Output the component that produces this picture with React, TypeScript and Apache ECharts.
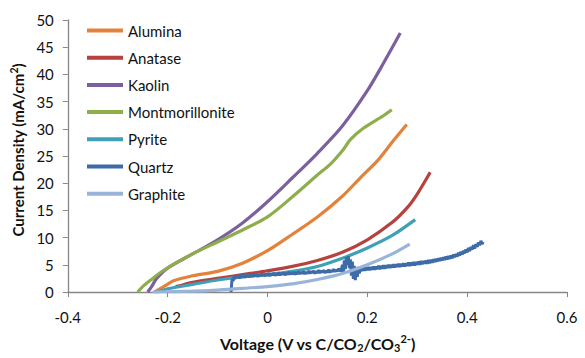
import React, { useEffect, useRef } from "react";
import * as echarts from "echarts";

// ---- Data (Voltage V vs C/CO2/CO3^2-, Current Density mA/cm2) ----
const aluminaV = [-0.226, -0.215, -0.204, -0.187, -0.154, -0.1, -0.05, 0, 0.04, 0.1, 0.15, 0.186, 0.22, 0.252, 0.279];
const aluminaI = [0, 0.6, 1.2, 2.1, 2.9, 3.8, 5.3, 7.6, 10.0, 13.8, 17.6, 21.0, 24.1, 27.8, 30.8];

const anataseV = [-0.184, -0.17, -0.15, -0.1, -0.05, 0, 0.05, 0.1, 0.15, 0.2, 0.25, 0.28, 0.3, 0.326];
const anataseI = [1.0, 1.3, 1.8, 2.5, 3.2, 3.9, 4.7, 5.8, 7.3, 9.6, 12.8, 15.5, 18.0, 22.0];

const kaolinV = [-0.24, -0.232, -0.222, -0.2, -0.15, -0.1, -0.05, 0, 0.05, 0.1, 0.15, 0.2, 0.232, 0.266];
const kaolinI = [0, 1.0, 2.5, 4.4, 7.0, 9.6, 12.7, 16.6, 21.0, 25.5, 30.5, 37.0, 42.0, 47.6];

const montV = [-0.26, -0.25, -0.234, -0.208, -0.15, -0.1, -0.05, 0, 0.05, 0.1, 0.126, 0.152, 0.166, 0.192, 0.232, 0.249];
const montI = [0, 1.0, 2.2, 4.0, 7.0, 9.2, 11.4, 13.8, 17.5, 21.5, 23.5, 26.2, 28.0, 30.1, 32.4, 33.5];

const pyriteV = [-0.225, -0.214, -0.2, -0.15, -0.1, -0.05, 0, 0.05, 0.1, 0.15, 0.2, 0.25, 0.296];
const pyriteI = [0, 0.2, 0.6, 1.4, 2.2, 2.8, 3.2, 3.8, 4.7, 6.2, 8.1, 10.4, 13.3];

const quartzV = [
  -0.073, -0.072, -0.071, -0.069, -0.067, -0.065, -0.0625, -0.06, -0.0575, -0.055, -0.0525, -0.05, -0.0475, -0.045, -0.0425, -0.04,
  -0.0375, -0.035, -0.0325, -0.03, -0.0275, -0.025, -0.0225, -0.02, -0.0175, -0.015, -0.0125, -0.01, -0.0075, -0.005, -0.0025,
  0, 0.0025, 0.005, 0.0075, 0.01, 0.0125, 0.015, 0.0175, 0.02, 0.0225, 0.025, 0.0275, 0.03, 0.0325, 0.035, 0.0375, 0.04, 0.0425,
  0.045, 0.0475, 0.05, 0.0525, 0.055, 0.0575, 0.06, 0.0625, 0.065, 0.0675, 0.07, 0.0725, 0.075, 0.0775, 0.08, 0.0825, 0.085,
  0.0875, 0.09, 0.0925, 0.095, 0.0975, 0.1, 0.1025, 0.105, 0.1075, 0.11, 0.1125, 0.115, 0.1175, 0.12, 0.1225, 0.125, 0.1275,
  0.13, 0.1325, 0.135, 0.1375, 0.14, 0.1425, 0.145, 0.148, 0.15, 0.152, 0.154, 0.156, 0.158, 0.16, 0.162, 0.164, 0.166, 0.168,
  0.17, 0.172, 0.174, 0.176, 0.178, 0.18, 0.182, 0.184, 0.186, 0.19, 0.1925, 0.195, 0.1975, 0.2, 0.2025, 0.205, 0.2075, 0.21,
  0.2125, 0.215, 0.2175, 0.22, 0.2225, 0.225, 0.2275, 0.23, 0.2325, 0.235, 0.2375, 0.24, 0.2425, 0.245, 0.2475, 0.25, 0.2525,
  0.255, 0.2575, 0.26, 0.2625, 0.265, 0.2675, 0.27, 0.2725, 0.275, 0.2775, 0.28, 0.2825, 0.285, 0.2875, 0.29, 0.2925, 0.295,
  0.2975, 0.3, 0.3025, 0.305, 0.3075, 0.31, 0.3125, 0.315, 0.3175, 0.32, 0.3225, 0.325, 0.3275, 0.33, 0.3325, 0.335, 0.3375,
  0.34, 0.3425, 0.345, 0.3475, 0.35, 0.3525, 0.355, 0.3575, 0.36, 0.3625, 0.365, 0.3675, 0.37, 0.3725, 0.375, 0.3775, 0.38,
  0.3825, 0.385, 0.3875, 0.39, 0.3925, 0.395, 0.3975, 0.4, 0.4025, 0.405, 0.4075, 0.41, 0.4125, 0.415, 0.4175, 0.42, 0.4225,
  0.425, 0.4275, 0.43, 0.432, 0.434, 0.435,
];
const quartzI = [
  0, 1.2, 2.4, 2.0, 2.9, 2.4, 3.0, 2.6, 3.1, 2.5, 3.2, 2.7, 3.0, 2.6, 3.3, 2.8,
  3.1, 2.7, 3.3, 2.8, 3.2, 2.9, 3.4, 2.8, 3.2, 2.9, 3.4, 3.0, 3.3, 2.9, 3.4,
  3.0, 3.5, 2.9, 3.4, 3.1, 3.5, 3.0, 3.4, 3.1, 3.6, 3.1, 3.5, 3.2, 3.6, 3.1, 3.5, 3.2, 3.7,
  3.2, 3.6, 3.3, 3.7, 3.2, 3.6, 3.3, 3.8, 3.3, 3.7, 3.4, 3.8, 3.3, 3.7, 3.4, 3.9, 3.4,
  3.8, 3.5, 3.9, 3.4, 3.8, 3.5, 4.0, 3.5, 3.9, 3.6, 4.0, 3.5, 3.9, 3.6, 4.1, 3.6, 4.0,
  3.7, 4.2, 3.7, 4.1, 3.8, 4.3, 3.9, 4.0, 5.0, 3.6, 5.8, 4.2, 6.4, 5.0, 6.6, 4.4, 6.0, 3.0,
  5.6, 2.4, 4.8, 2.2, 4.4, 2.8, 4.6, 3.4, 4.4, 3.9, 4.5, 3.9, 4.5, 4.0, 4.6, 4.0, 4.6, 4.1,
  4.7, 4.1, 4.7, 4.2, 4.8, 4.2, 4.8, 4.3, 4.9, 4.3, 4.9, 4.4, 5.0, 4.4, 5.0, 4.5, 5.1, 4.5,
  5.1, 4.6, 5.2, 4.6, 5.2, 4.7, 5.3, 4.7, 5.3, 4.8, 5.4, 4.8, 5.4, 4.9, 5.5, 4.9, 5.5,
  5.0, 5.6, 5.0, 5.7, 5.1, 5.7, 5.2, 5.8, 5.2, 5.9, 5.3, 5.9, 5.4, 6.0, 5.5, 6.1,
  5.6, 6.2, 5.7, 6.3, 5.8, 6.4, 5.9, 6.5, 6.0, 6.6, 6.1, 6.7, 6.2, 6.9, 6.4, 7.0,
  6.5, 7.2, 6.7, 7.4, 6.9, 7.6, 7.1, 7.8, 7.3, 8.1, 7.5, 8.3, 7.8, 8.6, 8.0, 8.8,
  8.3, 9.1, 8.6, 9.4, 8.8, 9.2,
];

const graphiteV = [-0.23, -0.15, -0.1, -0.05, 0, 0.05, 0.1, 0.15, 0.2, 0.25, 0.285];
const graphiteI = [0, 0.15, 0.35, 0.65, 1.0, 1.5, 2.3, 3.4, 5.0, 7.0, 8.8];

const seriesNames = ["Alumina", "Anatase", "Kaolin", "Montmorillonite", "Pyrite", "Quartz", "Graphite"];
const seriesColors = ["#E3823A", "#B5423F", "#7C5F9E", "#8EAE4B", "#3FA0B8", "#3E6CA8", "#98B4D9"];
const seriesV = [aluminaV, anataseV, kaolinV, montV, pyriteV, quartzV, graphiteV];
const seriesI = [aluminaI, anataseI, kaolinI, montI, pyriteI, quartzI, graphiteI];

const xTicks = { min: -0.4, max: 0.6, interval: 0.2 };
const yTicks = { min: 0, max: 50, interval: 5 };

const FONT = "Lato, 'Liberation Sans', sans-serif";

export default function App() {
  const ref = useRef<HTMLDivElement>(null);
  useEffect(() => {
    if (!ref.current) return;
    const chart = echarts.init(ref.current, undefined, { renderer: "svg" });
    const series = seriesNames.map((name, k) => ({
      name,
      type: "line",
      data: seriesV[k].map((v, i) => [v, seriesI[k][i]]),
      showSymbol: false,
      symbol: "none",
      smooth: name === "Quartz" ? false : 0.3,
      lineStyle: { color: seriesColors[k], width: name === "Quartz" ? 3 : 3.2 },
      itemStyle: { color: seriesColors[k] },
      z: 2 + k,
    }));
    chart.setOption({
      animation: false,
      backgroundColor: "#ffffff",
      textStyle: { fontFamily: FONT },
      grid: { left: 67, right: 18, top: 20, bottom: 58.5, containLabel: false },
      legend: {
        orient: "vertical",
        left: 87,
        top: 23,
        padding: 0,
        icon: "rect",
        itemWidth: 36,
        itemHeight: 4,
        itemGap: 12.2,
        data: seriesNames,
        textStyle: { fontFamily: FONT, fontSize: 15, color: "#111" },
      },
      xAxis: {
        type: "value",
        min: xTicks.min,
        max: xTicks.max,
        interval: xTicks.interval,
        splitLine: { show: false },
        axisLine: { onZero: false, lineStyle: { color: "#868686", width: 1.3 } },
        axisTick: { show: true, length: 5, lineStyle: { color: "#868686" } },
        axisLabel: {
          fontFamily: FONT,
          fontSize: 15,
          color: "#111",
          margin: 17,
          formatter: (v: number) => String(Math.round(v * 10) / 10),
        },
        name: "{t|Voltage (V vs C/CO}{sub|2}{t|/CO}{sub|3}{sup|2-}{t|)}",
        nameLocation: "middle",
        nameGap: 41,
        nameTextStyle: {
          rich: {
            t: { fontFamily: FONT, fontSize: 16, fontWeight: "bold", color: "#111", lineHeight: 20, verticalAlign: "middle" },
            sub: { fontFamily: FONT, fontSize: 11, fontWeight: "bold", color: "#111", lineHeight: 20, verticalAlign: "bottom" },
            sup: { fontFamily: FONT, fontSize: 11, fontWeight: "bold", color: "#111", lineHeight: 20, verticalAlign: "top" },
          },
        },
      },
      yAxis: {
        type: "value",
        min: yTicks.min,
        max: yTicks.max,
        interval: yTicks.interval,
        splitLine: { show: false },
        axisLine: { show: true, onZero: false, lineStyle: { color: "#868686", width: 1.3 } },
        axisTick: { show: true, length: 5, lineStyle: { color: "#868686" } },
        axisLabel: { fontFamily: FONT, fontSize: 15, color: "#111", margin: 14 },
        name: "{t|Current Density (mA/cm}{sup|2}{t|)}",
        nameLocation: "middle",
        nameRotate: 90,
        nameGap: 36,
        nameTextStyle: {
          padding: [0, 0, 0, 12],
          rich: {
            t: { fontFamily: FONT, fontSize: 15, fontWeight: "bold", color: "#111", lineHeight: 20, verticalAlign: "middle" },
            sup: { fontFamily: FONT, fontSize: 10.5, fontWeight: "bold", color: "#111", lineHeight: 20, verticalAlign: "top" },
          },
        },
      },
      series,
    });
    return () => chart.dispose();
  }, []);
  return (
    <div
      ref={ref}
      style={{ position: "fixed", left: 0, top: 0, width: 585, height: 358, background: "#fff" }}
    />
  );
}
